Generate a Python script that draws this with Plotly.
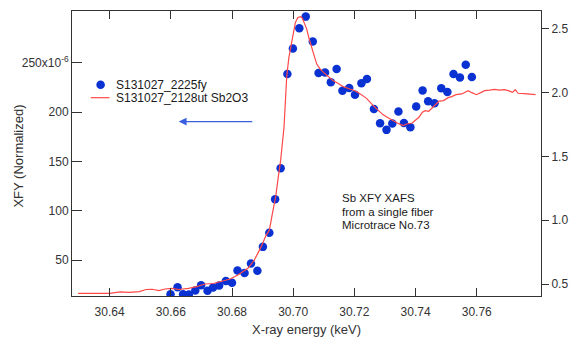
import plotly.graph_objects as go

# Blue points: S131027_2225fy (left axis, x10^-6)
fy_energy = [30.6599, 30.6622, 30.6640, 30.6659, 30.6680, 30.6699, 30.6720, 30.6738, 30.6758, 30.6780,
             30.6800, 30.6818, 30.6841, 30.6862, 30.6883, 30.6901, 30.6922, 30.6941, 30.6959, 30.6981,
             30.6999, 30.7020, 30.7041, 30.7064, 30.7083, 30.7104, 30.7123, 30.7142, 30.7161, 30.7183,
             30.7202, 30.7223, 30.7241, 30.7264, 30.7284, 30.7305, 30.7324, 30.7344, 30.7362, 30.7383,
             30.7402, 30.7423, 30.7441, 30.7462, 30.7484, 30.7504, 30.7524, 30.7545, 30.7564, 30.7584]
fy_value = [15.4, 22.4, 15.4, 15.2, 19.2, 24.4, 19.0, 22.2, 24.2, 28.8,
            27.1, 39.4, 36.9, 46.5, 39.2, 63.4, 77.6, 111.6, 143.2, 238.6,
            264.4, 285.1, 296.8, 271.5, 239.6, 240.2, 230.3, 243.6, 221.7, 224.4,
            217.7, 229.3, 233.5, 203.2, 188.7, 182.0, 188.4, 200.7, 188.9, 184.6,
            205.6, 222.0, 210.9, 208.9, 224.2, 220.4, 238.6, 235.2, 248.0, 235.6]

# Red line: S131027_2128ut Sb2O3 (right axis)
ut_energy = [30.6297, 30.6335, 30.6368, 30.6400, 30.6435, 30.6465, 30.6497, 30.6519, 30.6539, 30.6561,
             30.6581, 30.6603, 30.6626, 30.6658, 30.6684, 30.6712, 30.6739, 30.6765, 30.6794, 30.6819,
             30.6835, 30.6852, 30.6873, 30.6895, 30.6910, 30.6922, 30.6932, 30.6943, 30.6952, 30.6959,
             30.6970, 30.6975, 30.6979, 30.6986, 30.6991, 30.6997, 30.7007, 30.7015, 30.7023, 30.7029,
             30.7035, 30.7044, 30.7051, 30.7058, 30.7067, 30.7077, 30.7087, 30.7099, 30.7113, 30.7131,
             30.7142, 30.7164, 30.7185, 30.7196, 30.7213, 30.7228, 30.7239, 30.7260, 30.7274, 30.7293,
             30.7306, 30.7325, 30.7335, 30.7346, 30.7361, 30.7371, 30.7389, 30.7400, 30.7411, 30.7422,
             30.7432, 30.7443, 30.7455, 30.7465, 30.7477, 30.7491, 30.7507, 30.7518, 30.7532, 30.7551,
             30.7561, 30.7572, 30.7584, 30.7599, 30.7613, 30.7626, 30.7642, 30.7658, 30.7674, 30.7690,
             30.7703, 30.7717, 30.7726, 30.7735, 30.7755, 30.7776, 30.7792]
ut_value = [0.426, 0.426, 0.422, 0.426, 0.438, 0.434, 0.440, 0.457, 0.459, 0.448,
            0.461, 0.466, 0.457, 0.466, 0.480, 0.500, 0.504, 0.518, 0.539, 0.570,
            0.594, 0.623, 0.688, 0.791, 0.875, 0.922, 1.052, 1.188, 1.352, 1.469,
            1.729, 2.016, 2.133, 2.276, 2.344, 2.432, 2.549, 2.588, 2.596, 2.588,
            2.555, 2.500, 2.432, 2.367, 2.302, 2.224, 2.188, 2.159, 2.129, 2.094,
            2.080, 2.047, 2.029, 2.021, 2.000, 1.977, 1.957, 1.902, 1.867, 1.828,
            1.809, 1.784, 1.768, 1.755, 1.742, 1.754, 1.762, 1.781, 1.807, 1.846,
            1.859, 1.854, 1.883, 1.912, 1.934, 1.938, 1.961, 1.969, 1.984, 1.990,
            2.000, 2.016, 2.000, 1.984, 2.000, 2.016, 2.020, 2.026, 2.020, 2.023,
            2.016, 2.002, 2.023, 1.995, 1.992, 1.990, 1.984]

x_ticks = [30.64, 30.66, 30.68, 30.70, 30.72, 30.74, 30.76]
x_ticktext = ["30.64", "30.66", "30.68", "30.70", "30.72", "30.74", "30.76"]
left_ticks = [50, 100, 150, 200, 250]
left_ticktext = ["50", "100", "150", "200", "250x10<sup>-6</sup>"]
right_ticks = [0.5, 1.0, 1.5, 2.0, 2.5]
right_ticktext = ["0.5", "1.0", "1.5", "2.0", "2.5"]

series_names = ["S131027_2225fy", "S131027_2128ut Sb2O3"]
note_lines = ["Sb XFY XAFS", "from a single fiber", "Microtrace No.73"]

FONT = "Liberation Sans, Arial, sans-serif"
AX = "#333333"
BLUE = "#0a32d2"
RED = "#ff4848"
TXT = "#1a1a1a"

fig = go.Figure()
fig.add_trace(go.Scatter(x=fy_energy, y=fy_value, mode="markers", name=series_names[0],
                         marker=dict(color=BLUE, size=8.5, line=dict(width=0)), yaxis="y",
                         showlegend=False))
fig.add_trace(go.Scatter(x=ut_energy, y=ut_value, mode="lines", name=series_names[1],
                         line=dict(color=RED, width=1.2), yaxis="y2", showlegend=False))

fig.update_layout(
    width=578, height=339,
    margin=dict(l=72, r=31, t=10, b=43),
    paper_bgcolor="white", plot_bgcolor="white",
    font=dict(family=FONT, size=12, color=TXT),
    showlegend=False,
    xaxis=dict(range=[30.6277, 30.781], tickvals=x_ticks, ticktext=x_ticktext,
               ticks="inside", ticklen=8, tickcolor=AX, showline=True, linecolor=AX, linewidth=1,
               mirror="ticks", showgrid=False, zeroline=False, ticklabelstandoff=5,
               tickfont=dict(size=12, color="#333333")),
    yaxis=dict(range=[13.6, 302.5], tickvals=left_ticks, ticktext=left_ticktext,
               ticks="inside", ticklen=10, tickcolor=AX, showline=True, linecolor=AX, linewidth=1,
               showgrid=False, zeroline=False, tickfont=dict(size=12, color="#333333")),
    yaxis2=dict(range=[0.406, 2.64], tickvals=right_ticks, ticktext=right_ticktext,
                overlaying="y", side="right", ticks="outside", ticklen=7, tickcolor=AX,
                showline=True, linecolor=AX, linewidth=1, showgrid=False, zeroline=False,
                tickfont=dict(size=12, color="#333333")),
)

# axis titles
fig.add_annotation(x=0.5, y=-0.117, xref="paper", yref="paper", text="X-ray energy (keV)",
                   showarrow=False, xanchor="center", yanchor="middle",
                   font=dict(size=13, color="#333333"))
fig.add_annotation(x=-0.1147, y=0.49, xref="paper", yref="paper", text="XFY (Normalized)",
                   showarrow=False, textangle=-90, xanchor="center", yanchor="middle",
                   font=dict(size=13, color="#333333"))

# legend (manual, compact like the original)
fig.add_shape(type="circle", xref="paper", yref="paper", xsizemode="pixel", ysizemode="pixel",
              xanchor=0.061, yanchor=0.741, x0=-4.3, x1=4.3, y0=-4.3, y1=4.3,
              fillcolor=BLUE, line=dict(width=0))
fig.add_shape(type="line", xref="paper", yref="paper", x0=0.040, x1=0.080, y0=0.6958, y1=0.6958,
              line=dict(color=RED, width=1.2))
fig.add_annotation(x=0.090, y=0.741, xref="paper", yref="paper", text=series_names[0],
                   showarrow=False, xanchor="left", yanchor="middle", font=dict(size=12, color=TXT))
fig.add_annotation(x=0.090, y=0.6958, xref="paper", yref="paper", text=series_names[1],
                   showarrow=False, xanchor="left", yanchor="middle", font=dict(size=12, color=TXT))

# arrow
fig.add_annotation(x=30.6626, y=190.4, ax=30.6871, ay=190.4, xref="x", yref="y",
                   axref="x", ayref="y", text="", showarrow=True, arrowhead=2,
                   arrowsize=1.2, arrowwidth=1.3, arrowcolor="#3a5ee0")

# note text
for i, line in enumerate(note_lines):
    fig.add_annotation(x=(343 - 72) / 475, y=(296 - (198 + 13.6 * i)) / 286, xref="paper", yref="paper",
                       text=line, showarrow=False, xanchor="left", yanchor="middle",
                       font=dict(size=11.5, color=TXT))

fig.write_html("out.html", post_script="document.body.style.margin='0px';",
               config={"displayModeBar": False})
